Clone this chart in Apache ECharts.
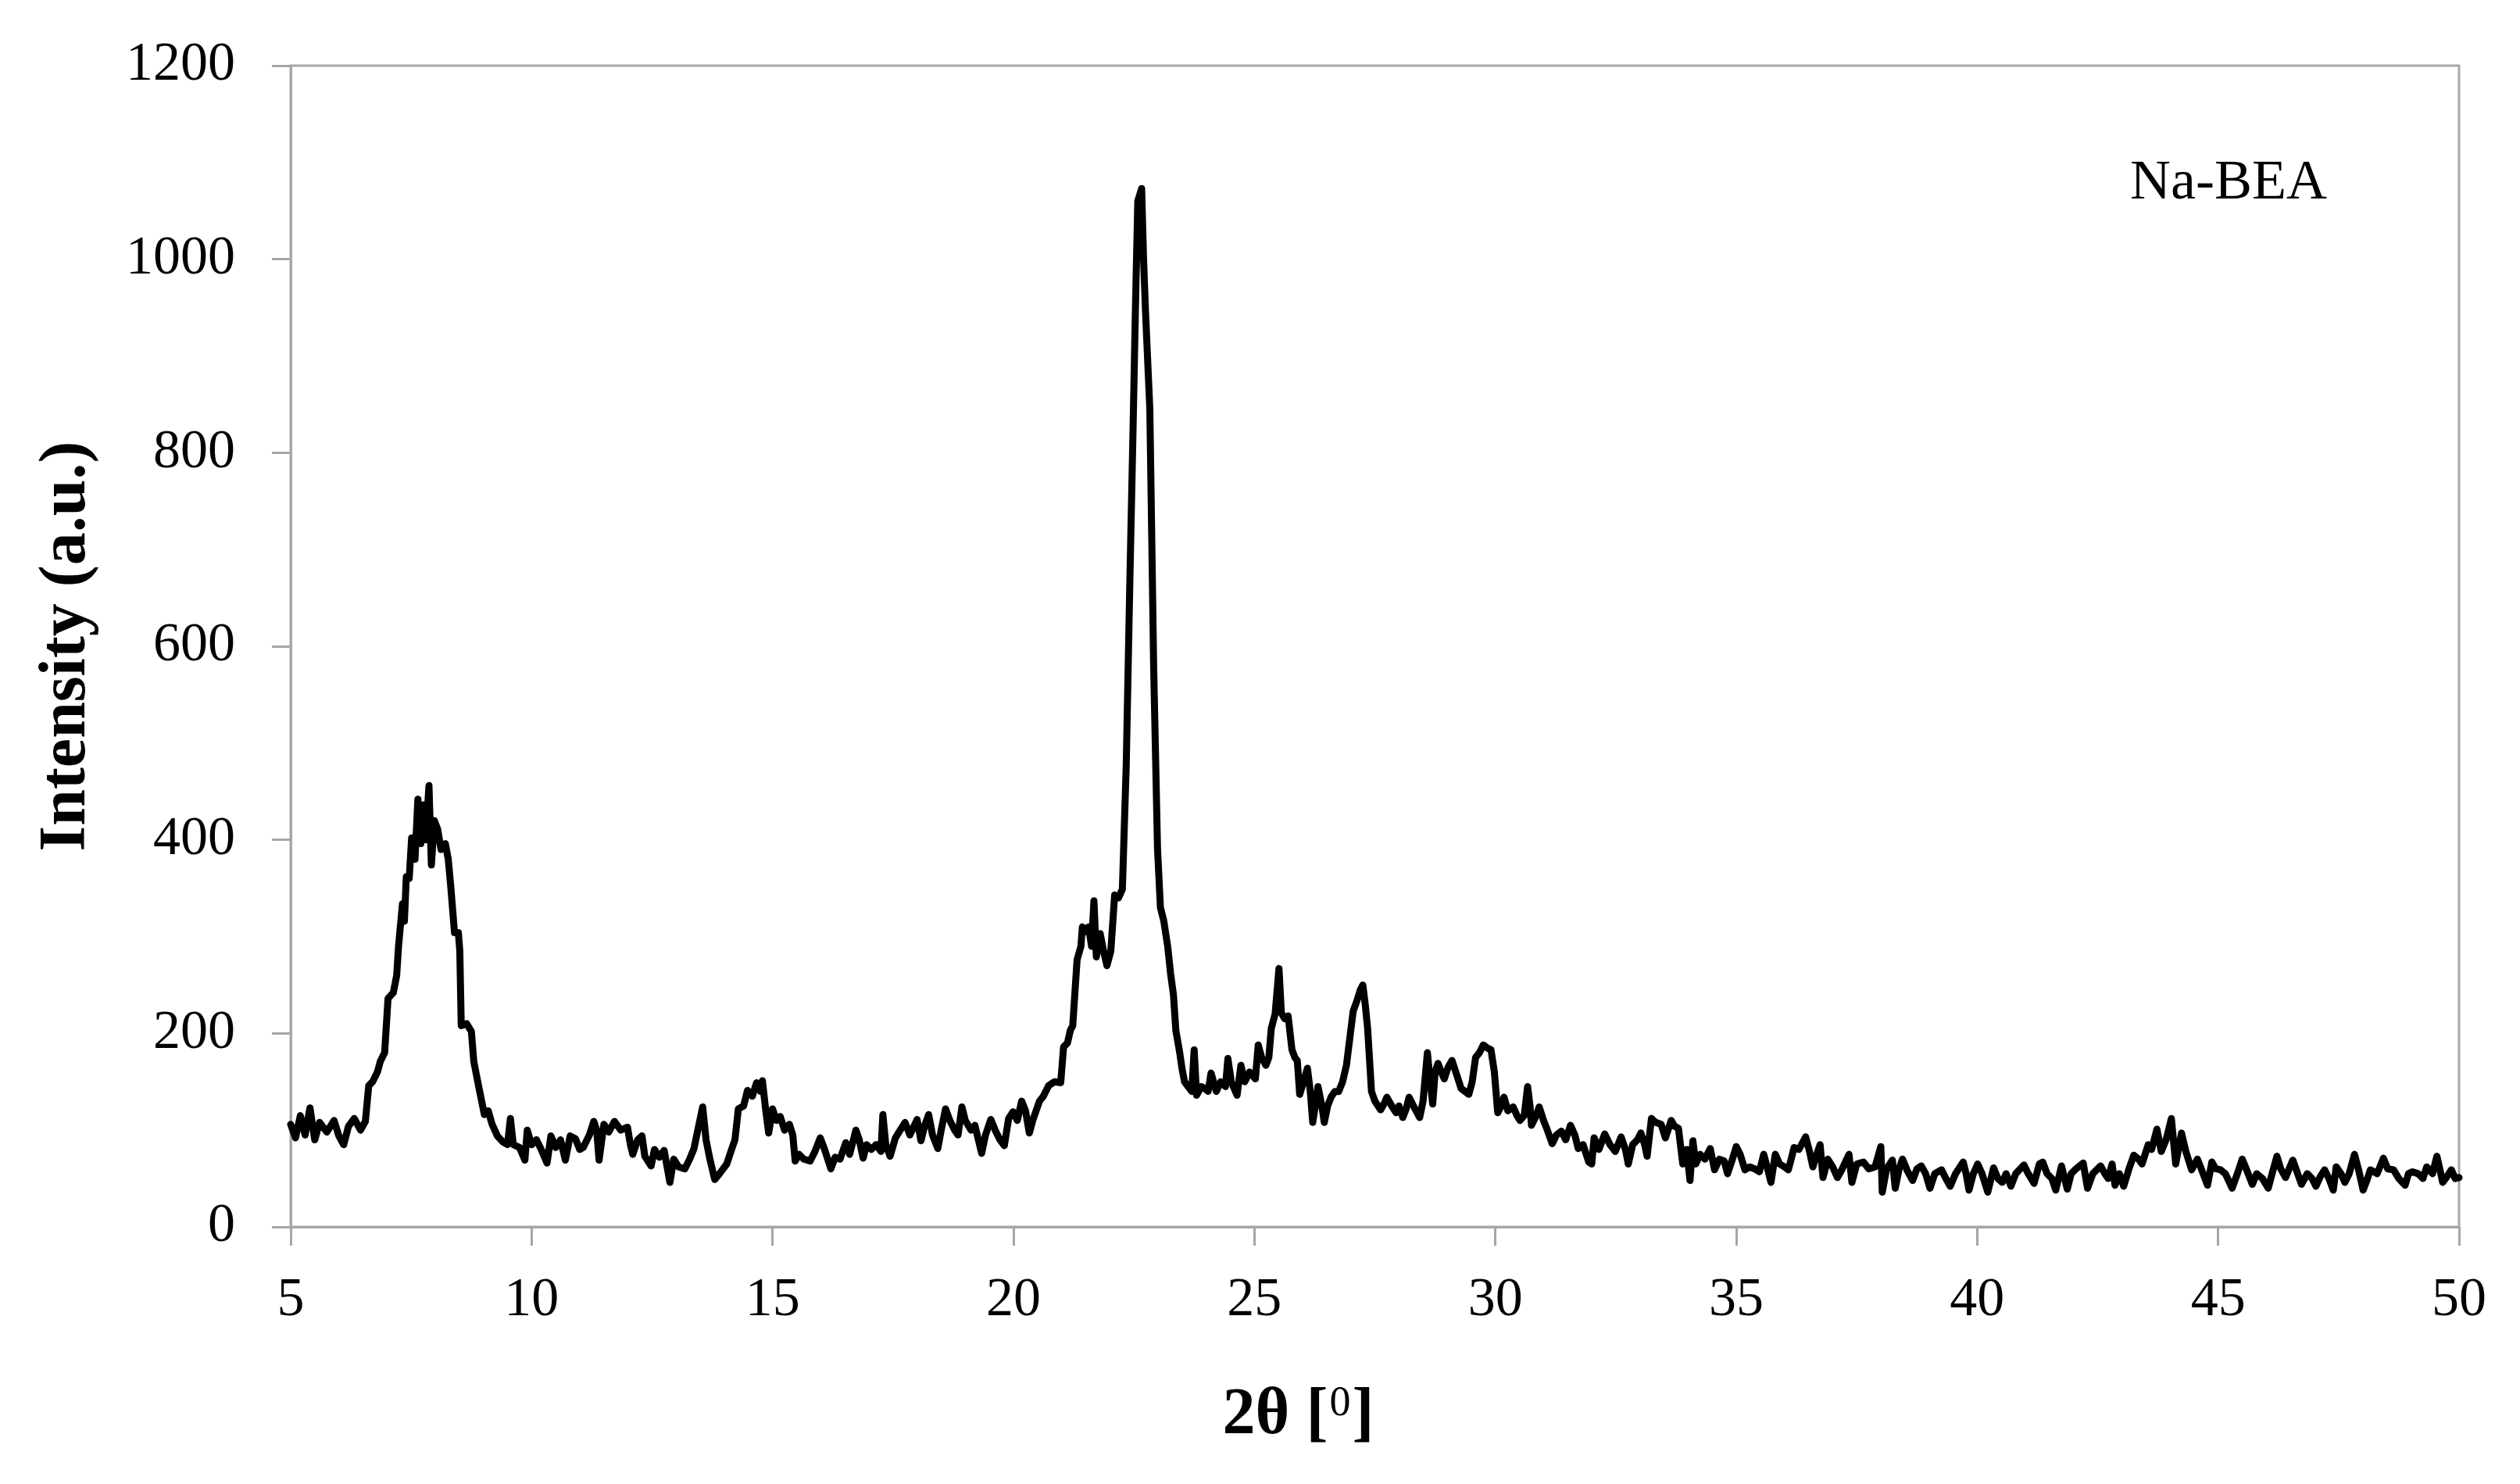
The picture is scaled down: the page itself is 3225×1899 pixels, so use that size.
<!DOCTYPE html>
<html>
<head>
<meta charset="utf-8">
<script src="https://cdn.jsdelivr.net/npm/echarts@6/dist/echarts.min.js"></script>
<style>
html,body{margin:0;padding:0;background:#fff;}
#chart{width:3225px;height:1899px;}
</style>
</head>
<body>
<div id="chart"></div>
<script>
const twoTheta = [
5.00,5.10,5.20,5.30,5.40,5.50,5.60,5.75,5.90,6.00,6.10,6.20,6.32,6.45,6.55,6.62,6.70,6.80,6.86,6.95,
7.02,7.13,7.20,7.24,7.32,7.36,7.40,7.46,7.51,7.58,7.64,7.70,7.75,7.80,7.87,7.92,7.98,8.05,8.12,8.21,
8.27,8.32,8.40,8.48,8.51,8.54,8.65,8.75,8.80,8.91,9.02,9.10,9.18,9.29,9.40,9.50,9.56,9.62,9.75,9.86,
9.91,10.00,10.10,10.20,10.32,10.40,10.50,10.60,10.70,10.80,10.91,11.00,11.07,11.20,11.29,11.35,11.40,11.50,11.60,11.72,
11.85,11.99,12.05,12.10,12.20,12.29,12.35,12.48,12.55,12.65,12.75,12.87,12.95,13.05,13.18,13.28,13.37,13.47,13.55,13.62,
13.70,13.80,13.90,14.05,14.15,14.22,14.29,14.40,14.48,14.58,14.67,14.75,14.79,14.86,14.92,15.00,15.08,15.16,15.25,15.35,
15.42,15.47,15.55,15.65,15.78,15.88,15.99,16.08,16.21,16.30,16.40,16.52,16.60,16.73,16.80,16.88,16.95,17.05,17.15,17.25,
17.29,17.35,17.44,17.55,17.65,17.75,17.85,18.00,18.08,18.16,18.24,18.32,18.43,18.50,18.59,18.68,18.78,18.85,18.93,19.00,
19.12,19.20,19.34,19.42,19.53,19.62,19.72,19.81,19.90,19.99,20.08,20.17,20.25,20.33,20.40,20.54,20.62,20.73,20.85,20.98,
21.04,21.12,21.18,21.23,21.32,21.40,21.43,21.50,21.56,21.62,21.67,21.72,21.80,21.87,21.94,22.02,22.10,22.18,22.26,22.34,
22.42,22.48,22.53,22.58,22.66,22.70,22.74,22.83,22.91,22.99,23.05,23.12,23.20,23.26,23.32,23.37,23.45,23.50,23.55,23.61,
23.70,23.75,23.80,23.90,23.97,24.04,24.10,24.21,24.30,24.40,24.45,24.52,24.64,24.72,24.80,24.90,25.02,25.08,25.15,25.24,
25.30,25.35,25.43,25.51,25.56,25.63,25.70,25.78,25.84,25.89,25.94,26.02,26.10,26.16,26.21,26.28,26.32,26.40,26.45,26.52,
26.59,26.67,26.75,26.83,26.91,26.98,27.05,27.13,27.20,27.25,27.30,27.35,27.43,27.50,27.62,27.70,27.75,27.85,27.94,28.00,
28.08,28.15,28.21,28.30,28.43,28.50,28.59,28.65,28.70,28.75,28.81,28.88,28.94,29.02,29.10,29.18,29.29,29.37,29.45,29.52,
29.59,29.67,29.75,29.83,29.91,29.98,30.05,30.12,30.18,30.26,30.37,30.45,30.51,30.60,30.67,30.72,30.75,30.85,30.91,31.00,
31.08,31.18,31.27,31.37,31.46,31.56,31.65,31.72,31.82,31.94,32.00,32.05,32.15,32.27,32.38,32.49,32.61,32.70,32.76,32.85,
32.95,33.02,33.10,33.15,33.24,33.33,33.44,33.53,33.65,33.72,33.80,33.89,33.97,34.04,34.10,34.16,34.25,34.35,34.46,34.55,
34.65,34.75,34.82,34.92,35.00,35.08,35.18,35.28,35.38,35.48,35.57,35.65,35.72,35.81,35.90,36.00,36.08,36.14,36.20,36.30,
36.44,36.52,36.59,36.67,36.74,36.80,36.90,37.00,37.10,37.20,37.34,37.40,37.50,37.64,37.75,37.88,38.00,38.03,38.12,38.24,
38.30,38.38,38.45,38.55,38.66,38.75,38.84,38.93,39.02,39.12,39.26,39.35,39.44,39.55,39.71,39.77,39.83,39.92,40.01,40.10,
40.22,40.34,40.43,40.52,40.60,40.70,40.80,40.97,41.06,41.18,41.29,41.36,41.45,41.55,41.63,41.75,41.87,41.95,42.05,42.20,
42.29,42.40,42.56,42.65,42.72,42.80,42.86,42.95,43.04,43.15,43.25,43.35,43.42,43.55,43.62,43.73,43.82,43.92,44.03,44.12,
44.24,44.33,44.45,44.57,44.65,44.78,44.87,44.95,45.05,45.15,45.29,45.40,45.50,45.60,45.71,45.80,45.92,46.04,46.12,46.22,
46.30,46.40,46.55,46.63,46.73,46.85,46.95,47.03,47.12,47.21,47.30,47.39,47.45,47.55,47.63,47.72,47.83,47.92,48.01,48.10,
48.16,48.30,48.43,48.52,48.64,48.75,48.88,48.95,49.03,49.15,49.25,49.33,49.45,49.54,49.60,49.66,49.75,49.84,49.92,50.00
];
const intensity = [
106,92,115,95,123,90,108,98,110,94,85,104,112,100,109,146,150,160,171,180,
236,242,260,291,334,316,362,360,402,380,442,396,436,400,456,374,420,411,390,396,
380,353,304,304,285,208,210,202,171,143,116,120,106,94,88,85,112,85,82,69,
100,85,90,80,66,94,82,90,69,94,91,80,82,95,109,100,69,106,98,109,
100,103,85,75,90,94,73,63,80,72,79,46,70,62,60,70,81,105,124,90,
70,49,55,65,80,90,122,125,141,135,149,140,151,120,97,122,110,114,100,106,
95,68,75,70,68,78,92,80,60,72,70,87,75,100,90,71,85,80,85,78,
116,85,73,92,100,108,95,111,89,105,116,95,81,100,122,110,100,95,124,110,
100,105,76,95,111,100,90,84,112,119,110,130,120,97,110,130,135,146,150,149,
186,190,203,208,276,290,310,305,310,290,337,279,303,285,270,285,343,340,349,477,
679,820,946,1060,1073,1000,946,845,577,390,330,316,290,262,240,203,180,163,150,146,
140,183,136,145,143,140,159,140,150,145,174,150,136,167,150,160,153,188,175,167,
175,205,220,267,221,215,218,183,175,172,137,150,164,140,108,130,145,125,108,125,
134,140,140,150,167,195,223,234,245,250,230,205,140,130,121,128,134,125,118,125,
113,122,134,125,113,130,180,150,127,160,169,160,153,165,172,160,143,140,137,150,
175,180,188,185,183,160,118,125,134,120,124,115,110,115,145,125,105,115,124,110,
100,86,95,99,90,105,95,81,85,67,65,92,80,96,85,78,93,80,65,85,
90,97,85,73,112,108,106,92,110,104,102,65,80,48,89,65,75,70,81,59,
70,68,55,70,83,75,59,62,60,57,75,60,46,75,65,62,59,70,82,80,
93,78,62,75,85,51,70,62,51,60,75,46,65,67,60,62,83,36,60,69,
40,60,70,58,48,60,63,55,40,55,59,50,42,55,67,55,38,55,65,55,
36,61,50,46,55,42,55,64,55,45,65,67,55,50,38,63,39,55,60,66,
40,55,63,55,50,65,43,55,42,60,74,70,65,85,80,101,78,90,112,65,
97,78,59,70,60,43,67,60,59,55,40,55,70,58,44,55,50,40,55,73,
60,51,69,58,44,55,50,42,52,59,50,38,62,55,46,55,75,58,38,50,
59,55,71,60,59,50,43,55,57,55,50,62,55,73,60,46,52,59,50,51
];
const xTicks = [5,10,15,20,25,30,35,40,45,50];
const yTicks = [0,200,400,600,800,1000,1200];
const sampleName = 'Na-BEA';
const xTitle = '2θ [{s|0}]';
const yTitle = 'Intensity (a.u.)';

const chart = echarts.init(document.getElementById('chart'), null, {renderer:'canvas'});
const font = 'Liberation Serif';
const axisGrey = '#a6a6a6';
chart.setOption({
  animation:false,
  backgroundColor:'#ffffff',
  title:{
    text: sampleName,
    left: 2726, top: 199, padding:0,
    textStyle:{fontFamily:font, fontSize:72, fontWeight:'normal', color:'#000'}
  },
  grid:{left:372, right:78, top:84, bottom:329, show:true, borderColor:axisGrey, borderWidth:3, backgroundColor:'transparent'},
  xAxis:{
    type:'value', min:xTicks[0], max:xTicks[xTicks.length-1], interval:5,
    name:xTitle, nameLocation:'middle', nameGap:200,
    nameTextStyle:{fontFamily:font, fontSize:84, fontWeight:'bold', color:'#000', padding:[0,196,0,0],
      rich:{s:{fontFamily:font, fontSize:54, fontWeight:'normal', color:'#000', verticalAlign:'top', padding:[0,2,0,2]}}},
    axisLine:{show:true, lineStyle:{color:axisGrey, width:3}},
    axisTick:{show:true, inside:false, length:24, lineStyle:{color:axisGrey, width:3}},
    axisLabel:{fontFamily:font, fontSize:70, color:'#000', margin:60, formatter:v=>String(v)},
    splitLine:{show:false}
  },
  yAxis:{
    type:'value', min:yTicks[0], max:yTicks[yTicks.length-1], interval:200,
    name:yTitle, nameLocation:'middle', nameGap:244,
    nameTextStyle:{fontFamily:font, fontSize:84, fontWeight:'bold', color:'#000'},
    axisLine:{show:true, lineStyle:{color:axisGrey, width:3}},
    axisTick:{show:true, inside:false, length:24, lineStyle:{color:axisGrey, width:3}},
    axisLabel:{fontFamily:font, fontSize:70, color:'#000', margin:71, formatter:v=>String(v)},
    splitLine:{show:false}
  },
  series:[{
    type:'line',
    data: twoTheta.map((t,i)=>[t, intensity[i]]),
    showSymbol:false,
    symbol:'none',
    lineStyle:{color:'#000', width:9, join:'round', cap:'round'},
    z:5
  }]
});
</script>
</body>
</html>
